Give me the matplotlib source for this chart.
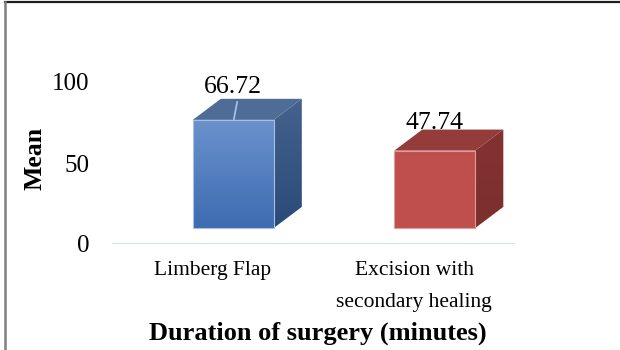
import numpy as np
import matplotlib
matplotlib.use("Agg")
import matplotlib.pyplot as plt
from matplotlib.patches import Polygon, Rectangle
from matplotlib.lines import Line2D

plt.rcParams["font.family"] = ["Liberation Serif", "DejaVu Serif"]

# chart data
categories = ["Limberg Flap", "Excision with\nsecondary healing"]
means = [66.72, 47.74]
value_labels = ["66.72", "47.74"]
y_ticks = [0, 50, 100]

# face colours for each bar: front gradient (top, bottom), top face, side gradient (top, bottom), edge
bar_styles = [
    dict(front=("#6C92CC", "#3D6CB1"), top="#4E6C96", side=("#46628D", "#2A4A79"), edge="#A9C0E3"),
    dict(front=("#C0504D", "#BF4F4C"), top="#943C3A", side=("#823231", "#7C2F2E"), edge="#E39A98"),
]

# pseudo-3D geometry (category units / value units)
half_w = 0.201
shift = 0.102
depth_x = 0.139
depth_y = 13.0
floor = 9.9
label_gaps = [20.5, 17.0]


def vertical_gradient(ax, poly, c_top, c_bot, x0, x1, y0, y1):
    top = np.array(matplotlib.colors.to_rgb(c_top))
    bot = np.array(matplotlib.colors.to_rgb(c_bot))
    t = np.linspace(0, 1, 128)[:, None]
    img = (top * (1 - t) + bot * t)[:, None, :]
    im = ax.imshow(img, extent=(x0, x1, y0, y1), origin="upper",
                   aspect="auto", zorder=poly.get_zorder(), interpolation="bilinear")
    im.set_clip_path(poly)


def draw_bar(ax, xc, value, style):
    x0 = xc + shift - half_w
    x1 = xc + shift + half_w
    y0 = floor
    y1 = floor + value

    side = Polygon([(x1, y0), (x1 + depth_x, y0 + depth_y),
                    (x1 + depth_x, y1 + depth_y), (x1, y1)],
                   closed=True, facecolor="none", edgecolor="none", zorder=2)
    ax.add_patch(side)
    vertical_gradient(ax, side, style["side"][0], style["side"][1],
                      x1, x1 + depth_x, y0, y1 + depth_y)

    top = Polygon([(x0, y1), (x1, y1), (x1 + depth_x, y1 + depth_y),
                   (x0 + depth_x, y1 + depth_y)],
                  closed=True, facecolor=style["top"], edgecolor="none", zorder=2)
    ax.add_patch(top)

    front = Rectangle((x0, y0), x1 - x0, y1 - y0, facecolor="none",
                      edgecolor="none", zorder=3)
    ax.add_patch(front)
    vertical_gradient(ax, front, style["front"][0], style["front"][1], x0, x1, y0, y1)
    ax.add_patch(Rectangle((x0, y0), x1 - x0, y1 - y0, facecolor="none",
                           edgecolor=style["edge"], linewidth=0.8, zorder=4))
    return (x0 + x1) / 2, y1


fig = plt.figure(figsize=(6.2, 3.5), dpi=100)
ax = fig.add_axes([112 / 620, 1 - 244 / 350, 403 / 620, 162 / 350])

x = np.arange(len(categories))
for xi, val, lab, gap, style in zip(x, means, value_labels, label_gaps, bar_styles):
    cx, ytop = draw_bar(ax, xi, val, style)
    ax.text(cx, ytop + gap, lab, ha="center", va="center",
            fontsize=18.5, color="#000000", zorder=6)

# leader line from the first label down to its bar
cx0 = x[0] + shift
ax.plot([cx0 + 0.019, cx0 + 0.003], [floor + means[0] + depth_y * 0.85,
                                      floor + means[0] + 0.5],
        color="#A9C6EA", linewidth=1.2, zorder=5)

ax.axhline(0, color="#D6E0F0", linewidth=1.6, zorder=1)

ax.set_xlim(-0.5, 1.5)
ax.set_ylim(0, 100)
ax.set_yticks(y_ticks)
ax.set_yticklabels([str(t) for t in y_ticks], fontsize=18)
ax.set_xticks(x)
ax.set_xticklabels(categories, fontsize=15.5, linespacing=1.95)
ax.tick_params(axis="both", length=0)
ax.tick_params(axis="y", pad=16.5)
ax.tick_params(axis="x", pad=12)
for sp in ax.spines.values():
    sp.set_visible(False)
ax.patch.set_alpha(0)

fig.text(35 / 620, 1 - 158 / 350, "Mean", rotation=90, ha="center", va="center",
         fontsize=18.5, fontweight="bold")
fig.text(318 / 620, 1 - 333 / 350, "Duration of surgery (minutes)", ha="center",
         va="center", fontsize=19, fontweight="bold")

# frame lines along the top and left edge
fig.add_artist(Line2D([4.5 / 620, 1], [1 - 2 / 350, 1 - 2 / 350],
                      color="#1E1E1E", linewidth=1.6, transform=fig.transFigure))
fig.add_artist(Line2D([4.5 / 620, 4.5 / 620], [0, 1 - 2 / 350],
                      color="#808080", linewidth=1.8, transform=fig.transFigure))

fig.savefig("out.png", dpi=100)
